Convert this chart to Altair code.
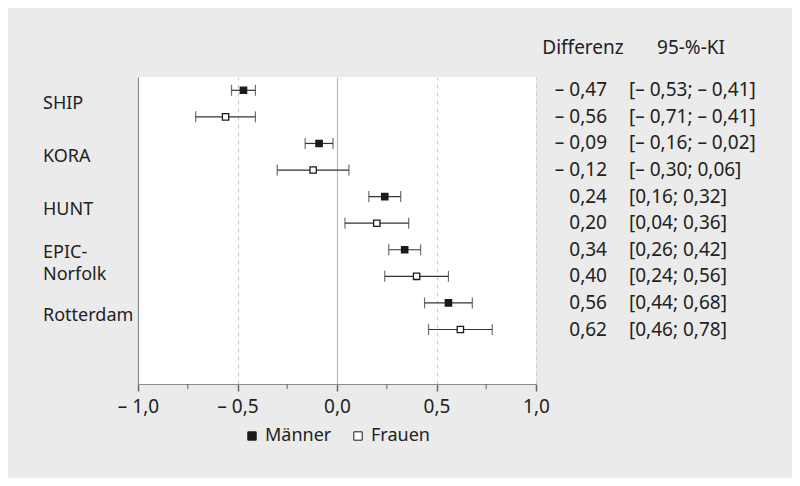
import altair as alt
import pandas as pd

studies = ["SHIP", "KORA", "HUNT", "EPIC-\nNorfolk", "Rotterdam"]
sexes = ["Männer", "Frauen"]
diff_m = [-0.47, -0.09, 0.24, 0.34, 0.56]
lo_m = [-0.53, -0.16, 0.16, 0.26, 0.44]
hi_m = [-0.41, -0.02, 0.32, 0.42, 0.68]
diff_f = [-0.56, -0.12, 0.20, 0.40, 0.62]
lo_f = [-0.71, -0.30, 0.04, 0.24, 0.46]
hi_f = [-0.41, 0.06, 0.36, 0.56, 0.78]
x_major = [-1.0, -0.5, 0.0, 0.5, 1.0]
x_minor = [-0.75, -0.25, 0.25, 0.75]
headers = ["Differenz", "95-%-KI"]

FONT = "Noto Sans"
FS = 19
TXT = "#222222"
AXC = "#666666"


def fmt(v):
    s = f"{abs(v):.2f}".replace(".", ",")
    return ("– " + s) if v < 0 else s


rows = []
for i, st in enumerate(studies):
    for j, (d, lo, hi) in enumerate([(diff_m[i], lo_m[i], hi_m[i]), (diff_f[i], lo_f[i], hi_f[i])]):
        rows.append({
            "study": st, "sex": sexes[j], "y": 2 * i + j + 0.5,
            "diff": d, "lo": lo, "hi": hi,
            "dtxt": fmt(d), "citxt": f"[{fmt(lo)}; {fmt(hi)}]",
        })
df = pd.DataFrame(rows)
lab = pd.DataFrame({"study": studies, "y": [2 * i + 1.0 for i in range(len(studies))]})
hdr = pd.DataFrame({"h": headers, "x": [445, 553]})
minor = pd.DataFrame({"x": x_minor})

xscale = alt.Scale(domain=[-1.0, 1.0], nice=False, zero=False)
yscale = alt.Scale(domain=[0, 11.55], reverse=True, nice=False, zero=False)

zero_test = "abs(datum.value) < 0.001"
edge_test = "abs(datum.value + 1) < 0.001"
xaxis = alt.Axis(
    values=x_major, title=None, grid=True,
    gridDash={"condition": {"test": zero_test, "value": []}, "value": [4, 4]},
    gridColor={"condition": {"test": zero_test, "value": "#bcbcbc"}, "value": "#cfcfcf"},
    gridOpacity={"condition": {"test": edge_test, "value": 0}, "value": 1},
    gridWidth=1.2,
    ticks=True, tickSize=7, tickColor=AXC, tickWidth=1.5, tickOpacity=1,
    domainColor="#8c8c8c", domainWidth=1.2,
    labelFlush=False,
    labelExpr="datum.value < 0 ? '– ' + replace(format(abs(datum.value), '.1f'), '.', ',') : "
              "replace(format(datum.value, '.1f'), '.', ',')",
    labelFont=FONT, labelFontSize=FS, labelColor=TXT, labelPadding=6,
)
yaxis = alt.Axis(title=None, labels=False, ticks=False, grid=False,
                 domainColor="#8c8c8c", domainWidth=1.2)

base = alt.Chart(df)

ci_line = base.mark_rule(color="#333333", strokeWidth=1.2).encode(
    x=alt.X("lo:Q", scale=xscale, axis=xaxis),
    x2="hi:Q",
    y=alt.Y("y:Q", scale=yscale, axis=yaxis),
)
cap_lo = base.mark_tick(color="#333333", thickness=1.2, size=11, orient="vertical").encode(
    x=alt.X("lo:Q", scale=xscale, axis=xaxis), y=alt.Y("y:Q", scale=yscale, axis=yaxis))
cap_hi = base.mark_tick(color="#333333", thickness=1.2, size=11, orient="vertical").encode(
    x=alt.X("hi:Q", scale=xscale, axis=xaxis), y=alt.Y("y:Q", scale=yscale, axis=yaxis))

minor_ticks = alt.Chart(minor).mark_tick(color=AXC, thickness=1.5, size=5,
                                         orient="vertical", clip=False).encode(
    x=alt.X("x:Q", scale=xscale, axis=xaxis), y=alt.value(309.5))

pts = base.mark_point(shape="square", filled=True, size=40, stroke="#1a1a1a",
                      strokeWidth=1.3, opacity=1).encode(
    x=alt.X("diff:Q", scale=xscale, axis=xaxis),
    y=alt.Y("y:Q", scale=yscale, axis=yaxis),
    fill=alt.Fill("sex:N", scale=alt.Scale(domain=sexes, range=["#1a1a1a", "#ffffff"]),
                  legend=alt.Legend(
                      title=None, orient="none", direction="horizontal",
                      legendX=105, legendY=350, padding=0,
                      symbolType="square", symbolSize=70,
                      symbolStrokeColor="#1a1a1a", symbolStrokeWidth=1,
                      labelFont=FONT, labelFontSize=18, labelColor=TXT,
                      labelOffset=4, columnPadding=17,
                  )),
)

dtext = base.mark_text(align="right", baseline="middle", font=FONT, fontSize=FS,
                       color=TXT).encode(
    x=alt.value(469), y=alt.Y("y:Q", scale=yscale, axis=yaxis), text="dtxt:N")
citext = base.mark_text(align="left", baseline="middle", font=FONT, fontSize=FS,
                        color=TXT).encode(
    x=alt.value(491), y=alt.Y("y:Q", scale=yscale, axis=yaxis), text="citxt:N")

multi = "indexof(datum.study, '\\n') >= 0"
labels_single = alt.Chart(lab).transform_filter("!(" + multi + ")").mark_text(
    align="left", baseline="middle", font=FONT, fontSize=18, color=TXT).encode(
    x=alt.value(-95), y=alt.Y("y:Q", scale=yscale, axis=yaxis), text="study:N")
labels_multi = alt.Chart(lab).transform_filter(multi).mark_text(
    align="left", baseline="middle", font=FONT, fontSize=18, color=TXT,
    lineBreak="\n", lineHeight=22, dy=-10).encode(
    x=alt.value(-95), y=alt.Y("y:Q", scale=yscale, axis=yaxis), text="study:N")

head = alt.Chart(hdr).mark_text(align="center", baseline="middle", font=FONT,
                                fontSize=FS, color=TXT).encode(
    x=alt.X("x:Q", scale=None), y=alt.value(-29), text="h:N")

chart = alt.layer(ci_line, cap_lo, cap_hi, minor_ticks, pts, dtext, citext,
                  labels_single, labels_multi, head).properties(
    width=398, height=307,
    autosize=alt.AutoSizeParams(type="none"),
    padding={"left": 130, "top": 69, "right": 256, "bottom": 94},
    background="#ebebeb",
).configure_view(fill="white", stroke=None)

chart.save("out.html", embed_options={"renderer": "svg", "actions": False})
